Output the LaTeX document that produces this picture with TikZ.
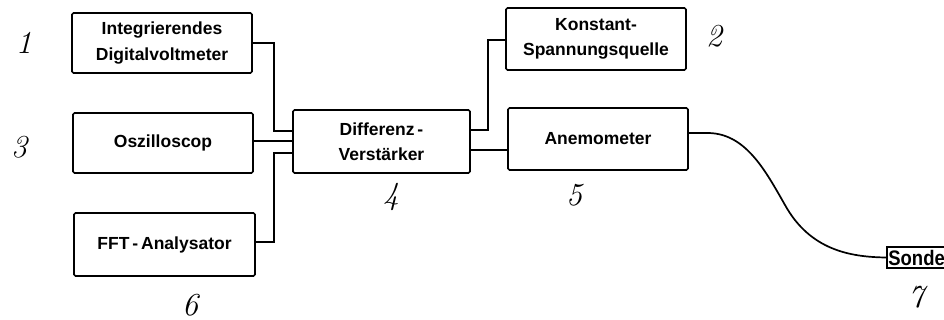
\documentclass[tikz,border=0pt]{standalone}
\usepackage{fontspec}
\setmainfont{Liberation Sans}
\newfontfamily\handfont{Latin Modern Roman}
\begin{document}
\begin{tikzpicture}[x=1pt,y=-1pt,
  blk/.style={draw,line width=1.7pt,rounded corners=1.5pt,align=center,inner sep=0pt,
    font=\bfseries\fontsize{17.5}{25.5}\selectfont},
  wire/.style={line width=1.7pt},
  num/.style={font=\handfont\itshape\fontsize{32}{32}\selectfont,inner sep=0pt}]
\useasboundingbox (0,0) rectangle (944,320);
\node[blk,minimum width=180pt,minimum height=60pt] (n1) at (162,43) {Integrierendes\\Digitalvoltmeter};
\node[blk,minimum width=180pt,minimum height=60pt] (n3) at (163,143) {Oszilloscop};
\node[blk,minimum width=181pt,minimum height=63pt] (n6) at (164.5,244.5) {FFT\,-\,Analysator};
\node[blk,minimum width=177pt,minimum height=63pt] (n4) at (381.5,141.5) {Differenz\,-\\Verstärker};
\node[blk,minimum width=180pt,minimum height=62pt] (n2) at (596,39) {Konstant-\\Spannungsquelle};
\node[blk,minimum width=180pt,minimum height=62pt] (n5) at (598,139) {Anemometer};
\node[draw,line width=1.7pt,anchor=west,minimum height=21pt,minimum width=62pt,inner xsep=1.5pt,inner ysep=0pt,
  text width=59pt,font=\bfseries\fontsize{21}{21}\selectfont] (n7) at (886,257.5) {\scalebox{0.88}[1]{Sonde}};
% numbers
\node[num] (l1) at (24,43) {1};
\node[num] (l3) at (19,147) {3};
\node[num] (l2) at (714,36) {2};
\node[num] (l4) at (391,197) {4};
\node[num] (l5) at (574,195) {5};
\node[num] (l6) at (190,305) {6};
\node[num] (l7) at (916,297) {7};
% connectors
\draw[wire] (n1.east) -- ++(21,0) |- ([yshift=10.5pt]n4.west);
\draw[wire] ([yshift=2pt]n3.east) -- ([yshift=2pt]n3.east -| n4.west);
\draw[wire] ([yshift=2.5pt]n6.east) -- ++(18,0) |- ([yshift=-11.5pt]n4.west);
\draw[wire] ([yshift=11.5pt]n4.east) -- ++(17,0) |- ([yshift=-1pt]n2.west);
\draw[wire] ([yshift=-8.5pt]n4.east) -- ([yshift=-8.5pt]n4.east -| n5.west);
\draw[wire] ([yshift=6pt]n5.east) -- ++(17,0) .. controls (745,132) and (765,170) .. (785,205)
  .. controls (810,250) and (850,257) .. (n7.west);
\end{tikzpicture}
\end{document}
